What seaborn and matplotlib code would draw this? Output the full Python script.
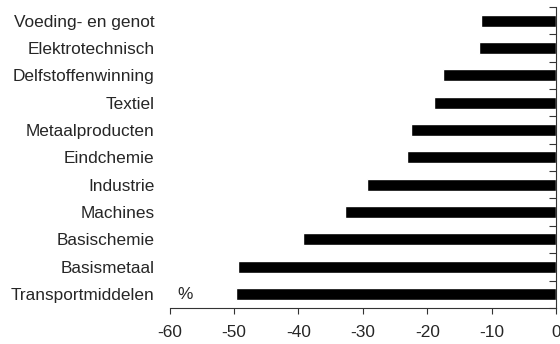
import matplotlib
matplotlib.use('Agg')
import matplotlib.pyplot as plt
import seaborn as sns
import numpy as np
import pandas as pd

# Branches (top to bottom) and change in %
sectors = ['Voeding- en genot', 'Elektrotechnisch', 'Delfstoffenwinning', 'Textiel',
           'Metaalproducten', 'Eindchemie', 'Industrie', 'Machines',
           'Basischemie', 'Basismetaal', 'Transportmiddelen']
change = [-11.6, -12.0, -17.5, -19.0, -22.6, -23.2, -29.3, -32.8, -39.3, -49.4, -49.7]
x_ticks = [-60, -50, -40, -30, -20, -10, 0]

df = pd.DataFrame({'Sector': sectors, 'Change': change})

sns.set_style('white')
plt.rcParams['font.family'] = ['Liberation Sans', 'DejaVu Sans']
fs = 12.4

fig = plt.figure(figsize=(5.6, 3.44), dpi=100)
ax = fig.add_axes([0.303, 0.105, 0.690, 0.875])

sns.barplot(data=df, x='Change', y='Sector', color='black', width=0.44,
            saturation=1, ax=ax)

ax.set_xlim(-60, 0)
ax.set_ylim(len(sectors) - 0.5, -0.5)
ax.set_xticks(x_ticks)
ax.set_xticklabels([str(t) for t in x_ticks], fontsize=fs)
ax.set_xlabel('')
ax.set_ylabel('')

# labels on the left, boundary ticks on the right spine
ax.set_yticks(range(len(sectors)))
ax.set_yticklabels(sectors, fontsize=fs)
ax.set_yticks(np.arange(-0.5, len(sectors), 1), minor=True)
ax.tick_params(axis='y', which='major', left=False, right=False, pad=7.5)
ax.tick_params(axis='y', which='minor', left=False, right=True, direction='in',
               length=5, width=0.8, color='#333333')
ax.tick_params(axis='x', which='major', bottom=True, direction='out', length=4,
               width=0.8, color='#333333', pad=8)

for side in ['top', 'left']:
    ax.spines[side].set_visible(False)
for side in ['right', 'bottom']:
    ax.spines[side].set_color('#333333')
    ax.spines[side].set_linewidth(0.8)

ax.text(-58.8, len(sectors) - 1, '%', fontsize=fs, va='center', ha='left')

fig.savefig('out.png', dpi=100)
